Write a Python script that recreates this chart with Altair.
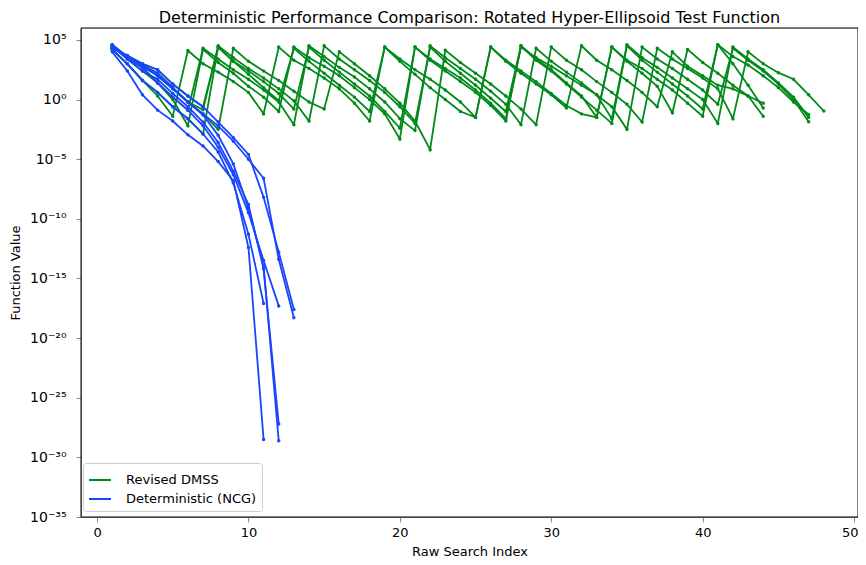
import altair as alt
import pandas as pd

# ---- Data (function values per raw search index, starting at index 1) ----
ncg_1 = [1.0e4, 2.5e2, 2.5e0, 1.3e-1, 1.6e-2, 1.1e-3, 1.3e-4, 6.3e-6, 1.6e-7, 4.0e-13, 3.2e-29]
ncg_2 = [1.6e4, 1.0e3, 4.0e1, 4.0e0, 2.5e-1, 2.5e-2, 1.3e-3, 4.0e-5, 1.0e-7, 5.0e-12, 7.9e-18]
ncg_3 = [4.0e4, 4.0e3, 6.3e2, 1.0e2, 7.9e0, 6.3e-1, 5.0e-2, 1.0e-3, 4.0e-6, 7.9e-10, 1.0e-14, 2.5e-29]
ncg_4 = [3.2e4, 2.5e3, 2.5e2, 5.0e1, 3.2e0, 2.5e-1, 1.3e-2, 2.5e-4, 1.0e-6, 1.6e-9, 6.3e-15, 6.3e-28]
ncg_5 = [2.5e4, 3.2e3, 5.0e2, 2.5e1, 1.6e0, 1.3e-1, 6.3e-3, 1.0e-4, 5.0e-7, 3.2e-10, 3.2e-14, 5.0e-18]
ncg_6 = [2.0e4, 5.0e3, 1.0e3, 3.2e2, 2.0e1, 2.0e0, 2.5e-1, 1.3e-2, 6.3e-4, 2.5e-5, 6.3e-9, 1.6e-13, 2.5e-18]
ncg_7 = [3.2e4, 3.2e3, 7.9e2, 1.6e2, 1.0e1, 6.3e-1, 6.3e-2, 6.3e-3, 3.2e-4, 1.0e-5, 2.5e-7, 4.0e-14, 5.0e-19]

dmss_1 = [1.6e4, 1.0e3, 4.0e1, 2.0e0, 4.0e-2,
          1.3e4, 1.0e3, 2.0e2, 3.2e1, 4.0e0, 6.3e-2,
          2.5e4, 2.0e3, 4.0e2, 6.3e1, 7.9e0, 5.0e-1, 1.6e-2,
          2.5e4, 2.5e3, 3.2e2, 5.0e1, 6.3e0, 6.3e-1, 3.2e-2,
          2.5e4, 1.6e3, 1.6e2, 2.0e1, 2.5e0, 2.0e-1,
          3.2e4, 2.0e3, 3.2e2, 4.0e1, 4.0e0, 2.5e-1,
          1.0e4, 6.3e2, 1.0e2, 1.6e1, 7.9e0, 2.0e0, 5.0e-1]
dmss_2 = [3.2e4, 2.5e3, 2.5e2, 2.5e1, 1.0e0, 6.3e-3,
          1.6e4, 1.3e3, 1.6e2, 1.3e1, 1.6e0, 1.0e-1,
          2.5e4, 3.2e3, 6.3e2, 1.0e2, 1.0e1, 1.0e0, 6.3e-2, 5.0e-4,
          2.5e4, 2.0e3, 2.5e2, 3.2e1, 4.0e0, 3.2e-1, 1.6e-2,
          3.2e4, 2.5e3, 3.2e2, 2.5e1, 2.0e0, 3.2e-2,
          2.5e4, 2.0e3, 4.0e2, 5.0e1, 6.3e0, 5.0e-1, 4.0e-2,
          4.0e4, 4.0e3, 7.9e2, 1.0e2, 1.0e1, 6.3e-1, 5.6e-2]
dmss_3 = [2.5e4, 3.2e3, 5.0e2, 2.5e1, 1.6e0, 1.3e-1,
          2.0e4, 2.5e3, 3.2e2, 5.0e1, 6.3e0, 6.3e-1, 7.9e-3,
          3.2e4, 4.0e3, 5.0e2, 7.9e1, 7.9e0, 6.3e-1, 2.5e-2, 2.5e-3,
          3.2e4, 3.2e3, 4.0e2, 5.0e1, 5.0e0, 4.0e-1, 7.9e-3,
          2.0e4, 1.6e3, 2.0e2, 2.5e1, 2.5e0, 2.5e-2,
          4.0e4, 3.2e3, 5.0e2, 6.3e1, 7.9e0, 1.0e0, 1.0e-2,
          2.5e4, 2.5e3, 3.2e2, 2.5e1, 1.6e0, 3.2e-2]
dmss_4 = [4.0e4, 4.0e3, 6.3e2, 1.0e2, 7.9e0, 6.3e-1, 1.4e-1,
          3.2e4, 3.2e3, 4.0e2, 6.3e1, 7.9e0, 7.9e-1, 1.6e-2,
          3.2e4, 2.5e3, 3.2e2, 4.0e1, 4.0e0, 2.5e-1, 1.0e-2,
          2.5e4, 1.6e3, 1.6e2, 1.6e1, 1.3e0, 1.0e-1,
          3.2e4, 2.0e3, 2.5e2, 2.0e1, 1.6e0, 1.3e-1, 1.0e-2,
          3.2e4, 2.0e3, 2.0e2, 2.0e1, 2.0e0, 1.6e-1,
          4.0e4, 1.0e3, 1.6e1, 2.0e-1]
dmss_5 = [2.0e4, 5.0e3, 1.0e3, 3.2e2, 2.0e1, 2.0e0, 2.5e-1,
          2.5e4, 1.6e3, 2.5e2, 3.2e1, 3.2e0, 1.6e-1,
          2.5e4, 2.0e3, 2.0e2, 2.0e1, 2.0e0, 1.0e-1, 4.0e-3,
          2.5e4, 2.5e3, 4.0e2, 6.3e1, 6.3e0, 5.0e-1, 2.5e-2,
          2.5e4, 3.2e3, 6.3e2, 1.0e2, 1.6e1, 2.5e0, 2.5e-1, 3.2e-3,
          2.5e4, 2.5e3, 4.0e2, 5.0e1, 6.3e0, 4.0e-1,
          2.0e4, 2.0e3, 2.5e2, 2.0e1, 1.0e0, 1.4e-2]
dmss_6 = [3.2e4, 3.2e3, 7.9e2, 1.6e2, 1.0e1, 6.3e-1, 6.3e-2, 3.2e-3,
          2.0e4, 1.6e3, 2.5e2, 4.0e1, 5.0e0, 6.3e-1, 1.6e-1,
          1.0e4, 1.0e3, 1.0e2, 7.9e0, 5.0e-1, 1.6e-2, 6.3e-5,
          1.4e4, 1.3e3, 1.6e2, 2.0e1, 2.0e0, 1.6e-1, 7.9e-3,
          2.5e4, 2.0e3, 3.2e2, 3.2e1, 4.0e0, 4.0e-1, 1.3e-2,
          2.0e4, 2.5e3, 4.0e2, 6.3e1, 7.9e0, 2.5e-2,
          1.0e4, 1.0e3, 1.8e2, 5.0e1, 2.5e0, 1.1e-1]
dmss_7 = [1.6e4, 1.0e3, 4.0e1, 4.0e0, 2.5e-1, 2.5e-2, 1.3e-3,
          2.5e4, 1.6e3, 1.3e2, 1.0e1, 7.9e-1,
          2.0e4, 1.6e3, 1.6e2, 1.6e1, 1.6e0, 1.0e-1,
          2.5e4, 1.6e3, 1.3e2, 1.0e1, 1.0e0, 1.0e-1, 3.2e-2,
          2.5e4, 2.0e3, 2.5e2, 3.2e1, 3.2e0, 3.2e-1, 6.3e-2, 3.2e-2,
          2.5e4, 1.6e3, 1.6e2, 1.3e1, 7.9e-2,
          1.6e4, 1.3e3, 1.6e2, 1.6e1, 2.0e0, 4.0e-2]

ncg_runs = [ncg_1, ncg_2, ncg_3, ncg_4, ncg_5, ncg_6, ncg_7]
dmss_runs = [dmss_1, dmss_2, dmss_3, dmss_4, dmss_5, dmss_6, dmss_7]

methods = ["Revised DMSS", "Deterministic (NCG)"]
colors = ["#008a1a", "#1a45ff"]
y_ticks = [1e-35, 1e-30, 1e-25, 1e-20, 1e-15, 1e-10, 1e-5, 1e0, 1e5]
x_ticks = [0, 10, 20, 30, 40, 50]

W, H = 777, 489


def to_frame(runs, method):
    rows = []
    for r, vals in enumerate(runs):
        for i, v in enumerate(vals):
            rows.append({"idx": i + 1, "value": v, "run": f"{method} {r}", "method": method})
    return pd.DataFrame(rows)


df_dmss = to_frame(dmss_runs, methods[0])
df_ncg = to_frame(ncg_runs, methods[1])

FONT = "DejaVu Sans"

exp = "round(log(datum.value)/LN10)"
sup = "'⁰¹²³⁴⁵⁶⁷⁸⁹'"
label_expr = (
    f"'10' + ({exp} < 0 ? '⁻' : '') + "
    f"(abs({exp}) >= 10 ? substring({sup}, floor(abs({exp})/10), floor(abs({exp})/10)+1) : '') + "
    f"substring({sup}, abs({exp}) % 10, abs({exp}) % 10 + 1)"
)

x_enc = alt.X(
    "idx:Q",
    title="Raw Search Index",
    scale=alt.Scale(domain=[-1.06, 50.26], nice=False, zero=False),
    axis=alt.Axis(values=x_ticks, format="d", grid=False, tickSize=5, labelPadding=4,
                  titlePadding=6, labelFontSize=13, titleFontSize=13,
                  labelFlush=5, labelFlushOffset=4,
                  titleFontWeight="normal", labelFont=FONT, titleFont=FONT),
)
y_enc = alt.Y(
    "value:Q",
    title="Function Value",
    scale=alt.Scale(type="log", domain=[1e-35, 1e6], nice=False),
    axis=alt.Axis(values=y_ticks, labelExpr=label_expr, grid=False, tickSize=5,
                  labelPadding=10, titlePadding=7, labelFontSize=14, titleFontSize=13,
                  labelFlush=False, titleFontWeight="normal", labelFont=FONT, titleFont=FONT),
)
color_enc = alt.Color(
    "method:N",
    scale=alt.Scale(domain=methods, range=colors),
    legend=alt.Legend(
        title=None, orient="none", legendX=2, legendY=435,
        symbolType="stroke", symbolSize=484, symbolStrokeWidth=2,
        labelFontSize=13, labelFont=FONT, fillColor="white", strokeColor="#cccccc",
        cornerRadius=3, padding=5, rowPadding=-1, labelOffset=14,
    ),
)


def layer(df):
    return alt.Chart(df).mark_line(
        strokeWidth=1.8,
        point=alt.OverlayMarkDef(size=12, filled=True, opacity=1),
    ).encode(x=x_enc, y=y_enc, color=color_enc, detail="run:N", order="idx:Q")


frame = alt.Chart(pd.DataFrame({"k": [0]})).mark_rect(
    fillOpacity=0, stroke="black", strokeWidth=1
).encode(x=alt.value(0), x2=alt.value(W), y=alt.value(0), y2=alt.value(H))

chart = alt.layer(layer(df_dmss), layer(df_ncg), frame).properties(
    width=W,
    height=H,
    title=alt.TitleParams(
        "Deterministic Performance Comparison: Rotated Hyper-Ellipsoid Test Function",
        fontSize=16, font=FONT, fontWeight="normal", offset=5, dy=3, anchor="middle",
    ),
    autosize=alt.AutoSizeParams(type="none"),
    padding={"left": 73, "top": 20, "right": 0, "bottom": 40},
).configure_axis(
    domainColor="black", tickColor="black", labelColor="black", titleColor="black",
).configure_view(stroke=None).configure(background="white")

chart.save("out.html", embed_options={"renderer": "svg", "actions": False})
